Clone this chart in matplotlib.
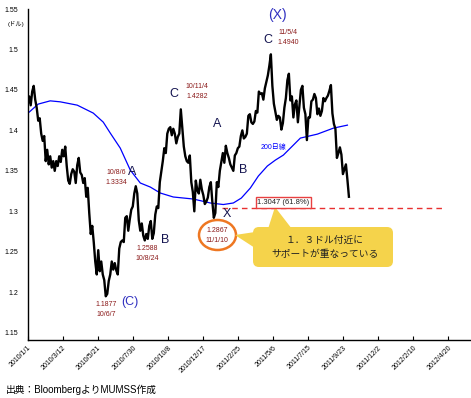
import pandas as pd
import matplotlib
matplotlib.use("Agg")
import matplotlib.pyplot as plt
from matplotlib.patches import Ellipse, FancyBboxPatch, Polygon
from matplotlib.transforms import Affine2D

plt.rcParams['font.family'] = ['Liberation Sans', 'Noto Sans CJK JP', 'DejaVu Sans']

# EUR/USD, one reading every 3 days from 2010/1/1
start = "2010-01-01"
price = [
    1.432, 1.442, 1.431, 1.448, 1.455, 1.438, 1.428, 1.412, 1.415, 1.396, 1.387,   # Jan
    1.393, 1.362, 1.376, 1.358, 1.368, 1.354, 1.362, 1.350, 1.362,                 # Feb
    1.356, 1.368, 1.361, 1.376, 1.368, 1.380, 1.356, 1.338, 1.334, 1.346,          # Mar
    1.352, 1.349, 1.335, 1.357, 1.366, 1.348, 1.345, 1.335, 1.341, 1.318,          # Apr
    1.329, 1.298, 1.272, 1.282, 1.262, 1.238, 1.222, 1.252, 1.226, 1.238, 1.222,   # May
    1.215, 1.195, 1.198, 1.214, 1.222, 1.238, 1.228, 1.236, 1.227, 1.222,          # Jun
    1.254, 1.262, 1.264, 1.262, 1.292, 1.294, 1.276, 1.290, 1.302, 1.306,          # Jul
    1.322, 1.331, 1.322, 1.289, 1.276, 1.285, 1.270, 1.264, 1.272, 1.266,          # Aug
    1.282, 1.288, 1.266, 1.273, 1.296, 1.306, 1.304, 1.336, 1.349, 1.362,          # Sep
    1.378, 1.372, 1.396, 1.402, 1.404, 1.394, 1.402, 1.396, 1.384, 1.392, 1.396,   # Oct
    1.426, 1.403, 1.380, 1.368, 1.362, 1.360, 1.369, 1.336, 1.324, 1.300,          # Nov
    1.338, 1.326, 1.322, 1.339, 1.327, 1.320, 1.309, 1.312, 1.317, 1.330,          # Dec
    1.336, 1.312, 1.292, 1.298, 1.336, 1.330, 1.350, 1.361, 1.372, 1.360,          # 2011 Jan
    1.381, 1.372, 1.366, 1.358, 1.354, 1.350, 1.369, 1.372, 1.378, 1.380,          # Feb
    1.393, 1.400, 1.390, 1.392, 1.396, 1.418, 1.420, 1.410, 1.408, 1.411,          # Mar
    1.424, 1.422, 1.448, 1.445, 1.446, 1.438, 1.452, 1.460, 1.468, 1.480,          # Apr
    1.494, 1.455, 1.433, 1.423, 1.413, 1.418, 1.416, 1.401, 1.409, 1.428,          # May
    1.440, 1.462, 1.470, 1.437, 1.442, 1.416, 1.432, 1.437, 1.410, 1.430,          # Jun
    1.450, 1.455, 1.428, 1.420, 1.388, 1.416, 1.416, 1.436, 1.438, 1.445, 1.440,   # Jul
    1.420, 1.427, 1.418, 1.424, 1.440, 1.436, 1.440, 1.443, 1.449, 1.456,          # Aug
    1.421, 1.408, 1.402, 1.366, 1.372, 1.379, 1.370, 1.346, 1.352, 1.358,          # Sep
    1.339, 1.318,                                                                  # Oct
]

# 200-day moving average
ma_dates = ["2010-01-04", "2010-01-22", "2010-02-15", "2010-03-07", "2010-04-10",
            "2010-05-12", "2010-06-01", "2010-06-15", "2010-07-05", "2010-07-25",
            "2010-08-14", "2010-09-03", "2010-09-23", "2010-10-19", "2010-11-28",
            "2011-01-01", "2011-01-27", "2011-02-16", "2011-03-04", "2011-03-22",
            "2011-04-07", "2011-04-25", "2011-05-11", "2011-05-27", "2011-06-14",
            "2011-06-30", "2011-08-03", "2011-09-04", "2011-10-02"]
ma_values = [1.4226, 1.4325, 1.4365, 1.4353, 1.4312,
             1.4214, 1.4102, 1.3967, 1.3781, 1.3510,
             1.3350, 1.3300, 1.3226, 1.3177, 1.3152,
             1.3103, 1.3084, 1.3103, 1.3164, 1.3288,
             1.3436, 1.3560, 1.3633, 1.3695, 1.3806,
             1.3905, 1.3954, 1.4028, 1.4065]

support = 1.3047
support_from, support_to = "2011-01-25", "2012-04-09"

tick_labels = ["2010/1/1", "2010/3/12", "2010/5/21", "2010/7/30", "2010/10/8",
               "2010/12/17", "2011/2/25", "2011/5/6", "2011/7/15", "2011/9/23",
               "2011/12/2", "2012/2/10", "2012/4/20"]
y_ticks = [1.15, 1.2, 1.25, 1.3, 1.35, 1.4, 1.45, 1.5, 1.55]

W, H = 471, 398
fig = plt.figure(figsize=(W / 100, H / 100), dpi=100)
ax = fig.add_axes([27.7 / W, 58 / H, 442.3 / W, 331 / H])

dates = pd.date_range(start, periods=len(price), freq="3D")
ax.plot(dates, price, color="black", lw=1.7, zorder=3)
ax.plot(pd.to_datetime(ma_dates), ma_values, color="#0000ff", lw=0.9, zorder=2)
ax.plot(pd.to_datetime([support_from, support_to]), [support, support],
        color="#e83030", lw=1, ls=(0, (4, 3)), zorder=2)

ax.set_xlim(pd.Timestamp("2010-01-01"), pd.Timestamp("2012-06-03"))
ax.set_ylim(1.141, 1.55)
ax.set_xticks(pd.to_datetime(tick_labels, format="%Y/%m/%d"))
ax.set_xticklabels(tick_labels, rotation=45, ha="right", va="top",
                   rotation_mode="anchor", fontsize=5)
ax.set_yticks(y_ticks)
ax.set_yticklabels(["%g" % v for v in y_ticks], fontsize=5)
ax.tick_params(axis="x", direction="in", length=3, width=0.8, pad=3)
ax.tick_params(axis="y", length=0, pad=7)
for s in ["top", "right"]:
    ax.spines[s].set_visible(False)
for s in ["left", "bottom"]:
    ax.spines[s].set_linewidth(1.0)

# annotations in pixel coordinates (origin top-left)
px = Affine2D().scale(1 / W, -1 / H).translate(0, 1) + fig.transFigure
red = "#8b1a1a"
navy = "#141450"
blue = "#3030c0"

def txt(x, y, s, **kw):
    kw.setdefault("ha", "center")
    kw.setdefault("va", "center")
    fig.text(x, y, s, transform=px, **kw)

txt(16, 24, "(ドル)", fontsize=4.5)

for x, y, s in [(132, 172, "A"), (165, 240, "B"), (174, 94, "C"),
                (217, 124, "A"), (243, 170, "B"), (227, 214, "X"), (268, 40, "C")]:
    txt(x, y, s, fontsize=9, color=navy)
txt(130, 302, "(C)", fontsize=9, color=blue)
txt(277, 15, "(X)", fontsize=10, color=blue)

for x, y, s in [(116, 173, "10/8/6"), (116, 183, "1.3334"),
                (147, 248, "1.2588"), (147, 258, "10/8/24"),
                (106, 305, "1.1877"), (106, 314, "10/6/7"),
                (197, 87, "10/11/4"), (197, 97, "1.4282"),
                (288, 32, "11/5/4"), (288, 43, "1.4940"),
                (217, 230, "1.2867"), (217, 240, "11/1/10")]:
    txt(x, y, s, fontsize=5, color=red)

txt(273, 147, "200日線", fontsize=5, color="#0000ff")

fig.add_artist(Ellipse((217.5, 235), 37, 30, transform=px, fill=False,
                       ec="#ee7722", lw=1.8))

txt(283.5, 202.5, "1.3047 (61.8%)", fontsize=5.5, color="#222222",
    bbox=dict(boxstyle="square,pad=0.25", fc="white", ec="#e84040", lw=1))

yellow = "#f5d34b"
fig.add_artist(Polygon([(268, 229), (275, 207), (292, 229)], closed=True,
                       transform=px, fc=yellow, ec="none"))
fig.add_artist(Polygon([(255, 232), (235, 235), (255, 248)], closed=True,
                       transform=px, fc=yellow, ec="none"))
fig.add_artist(FancyBboxPatch((253, 227), 140, 40, transform=px, fc=yellow, ec="none",
                              boxstyle="round,pad=0,rounding_size=6"))
txt(325, 240, "１．３ドル付近に", fontsize=7, color="#222222")
txt(325, 254, "サポートが重なっている", fontsize=7, color="#222222")

txt(6, 390, "出典：BloombergよりMUMSS作成", fontsize=7, ha="left")

fig.savefig("out.png", dpi=100)
